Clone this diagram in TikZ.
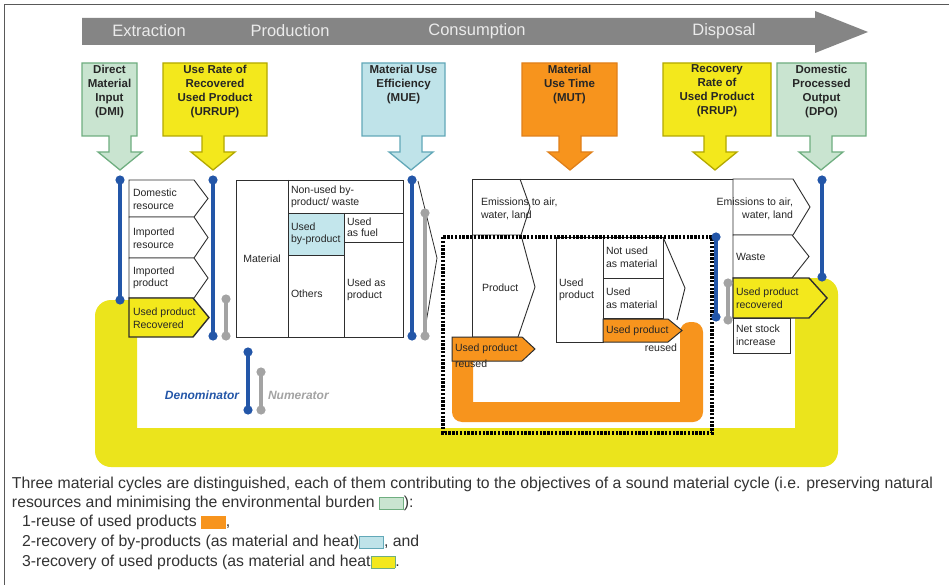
\documentclass[tikz,border=0pt]{standalone}
\usepackage{fontspec}
\setmainfont{Liberation Sans}

\definecolor{arrowgray}{HTML}{858585}
\definecolor{phasetext}{HTML}{EBEBEB}
\definecolor{envgreen}{HTML}{C9E4D0}
\definecolor{envgreenline}{HTML}{6FAE80}
\definecolor{loopyellow}{HTML}{EBE41C}
\definecolor{boxyellow}{HTML}{F3E81C}
\definecolor{yellowline}{HTML}{B3A800}
\definecolor{byblue}{HTML}{BFE3E9}
\definecolor{bybluefill}{HTML}{C3E6EC}
\definecolor{byblueline}{HTML}{62A8B8}
\definecolor{reuseorange}{HTML}{F7941D}
\definecolor{orangeline}{HTML}{E0801A}
\definecolor{denblue}{HTML}{2356A8}
\definecolor{numgray}{HTML}{A3A3A3}
\definecolor{inkline}{HTML}{2E2E2E}
\definecolor{inktext}{HTML}{262626}
\definecolor{legendtext}{HTML}{333333}

% pentagon (arrow-shaped) box: style, left x, top y, start of point, tip x, bottom y
\newcommand\chevbox[6]{%
  \draw[#1] (#2,#3) -- (#4,#3) -- (#5,{(#3+#6)/2}) -- (#4,#6) -- (#2,#6) -- cycle;}

% indicator call-out: fill, edge, left x, right x, arrow x, node name, text
\newcommand\indicator[7]{%
  \draw[fill=#1, draw=#2, line width=1.3]
    (#3,63) -- (#4,63) -- (#4,136) -- ({#5+11},136) -- ({#5+11},152)
    -- ({#5+22},152) -- (#5,170) -- ({#5-22},152) -- ({#5-11},152)
    -- ({#5-11},136) -- (#3,136) -- cycle;
  \node[indtxt] (#6) at ({(#3+#4)/2},65) {#7};}

% measuring bar with round ends: colour, name, x, top y, bottom y
\newcommand\measurebar[5]{%
  \coordinate (#2t) at (#3,#4);
  \coordinate (#2b) at (#3,#5);
  \draw[#1, line width=3.6] (#2t) -- (#2b);
  \fill[#1] (#2t) circle[radius=4.6pt] (#2b) circle[radius=4.6pt];}

% colour sample inside the legend text
\newcommand\swatch[2]{{\fboxsep=0pt\fboxrule=0.9pt\raisebox{-1.5pt}{\fcolorbox{#2}{#1}{\rule{0pt}{11pt}\hspace{23pt}}}}}

\begin{document}
\begin{tikzpicture}[x=1pt, y=-1pt, line join=miter,
  every node/.style={inner sep=0pt, outer sep=0pt},
  phase/.style={font=\fontsize{16.5}{18}\selectfont, text=phasetext},
  indtxt/.style={font=\fontsize{11.5}{14}\selectfont\bfseries, align=center, anchor=north, text=inktext},
  boxtxt/.style={font=\fontsize{10.5}{12.5}\selectfont, align=left, anchor=west, text=inktext},
  plainbox/.style={draw=inkline, line width=0.9, fill=white},
  yellowbox/.style={draw=inkline, line width=1.4, fill=boxyellow},
  orangebox/.style={draw=inkline, line width=1.0, fill=reuseorange},
  legend/.style={font=\fontsize{15.8}{18}\selectfont, anchor=west, text=legendtext}]

\useasboundingbox (0,0) rectangle (949,585);
\fill[white] (0,0) rectangle (949,585);

% page frame
\draw[line width=1.3, draw=black!65] (4.5,585) -- (4.5,4.5) -- (949,4.5);

% life-cycle stages arrow
\fill[arrowgray] (82,18) -- (815,18) -- (815,11) -- (868,32) -- (815,53)
  -- (815,45) -- (82,45) -- cycle;
\node[phase] (stExtraction)  at (149,31) {Extraction};
\node[phase] (stProduction)  at (290,31) {Production};
\node[phase] (stConsumption) at (477,31) {Consumption};
\node[phase] (stDisposal)    at (724,31) {Disposal};

% indicators
\indicator{envgreen}{envgreenline}{82}{137}{120}{dmi}{Direct\\Material\\Input\\(DMI)}
\indicator{boxyellow}{yellowline}{163}{267}{213}{urrup}{Use Rate of\\Recovered\\Used Product\\(URRUP)}
\indicator{byblue}{byblueline}{362}{445}{411}{mue}{Material Use\\Efficiency\\(MUE)}
\indicator{reuseorange}{orangeline}{522}{617}{570}{mut}{Material\\Use Time\\(MUT)}
\indicator{boxyellow}{yellowline}{663}{771}{715}{rrup}{Recovery\\Rate of\\Used Product\\(RRUP)}
\indicator{envgreen}{envgreenline}{777}{866}{821}{dpo}{Domestic\\Processed\\Output\\(DPO)}

% cycle 3: recovery of used products
\fill[loopyellow] (137,300) [rounded corners=16] -- (95,300) -- (95,467)
  -- (838,467) -- (838,278) -- (795,278) [sharp corners] -- (795,428)
  -- (137,428) -- cycle;

% cycle 1: reuse of used products
\fill[reuseorange] (473,338) -- (452,338) [rounded corners=10] -- (452,422)
  -- (703,422) -- (703,322) -- (680,322) [sharp corners] -- (680,402)
  -- (473,402) -- cycle;

% extraction: inputs
\chevbox{plainbox}{129}{180}{194}{208}{217}
\chevbox{plainbox}{129}{217}{194}{208}{258}
\chevbox{plainbox}{129}{258}{194}{208}{298}
\chevbox{yellowbox}{129}{298}{193}{209}{337}
\node[boxtxt] (inDom) at (133,199) {Domestic\\resource};
\node[boxtxt] (inImpR) at (133,238) {Imported\\resource};
\node[boxtxt] (inImpP) at (133,278) {Imported\\product};
\node[boxtxt] (inRec) at (133,318) {Used product\\Recovered};

% production
\draw[plainbox] (236,180) rectangle (403,337);
\fill[bybluefill] (288,213) rectangle (344,255);
\draw[inkline, line width=0.9] (288,180) -- (288,337)
  (288,213) -- (403,213) (344,213) -- (344,337)
  (288,255) -- (344,255) (344,242) -- (403,242);
\draw[inkline, line width=0.8] (418,181) -- (437,258) -- (424,335);
\node[boxtxt, anchor=center] (prMat) at (262,259) {Material};
\node[boxtxt] (prNon) at (291,197) {Non-used by-\\product/ waste};
\node[boxtxt] (prUsedBy) at (291,234) {Used\\by-product};
\node[boxtxt, font=\fontsize{10.5}{11}\selectfont] (prFuel) at (347,227) {Used\\as fuel};
\node[boxtxt] (prOth) at (291,294) {Others};
\node[boxtxt] (prProd) at (347,290) {Used as\\product};

% consumption
\draw[inkline, line width=0.9] (472,337) -- (472,179) -- (733,179);
\draw[inkline, line width=0.9] (520,179) -- (530,207) -- (521,235)
  -- (535,287) -- (518,337) -- (472,337) (472,235) -- (521,235);
\node[boxtxt] (csEm) at (481,209) {Emissions to air,\\water, land};
\node[boxtxt] (csProd) at (482,288) {Product};

\draw[plainbox] (556,237) rectangle (603,342);
\draw[plainbox] (603,237) rectangle (663,278);
\draw[plainbox] (603,278) rectangle (663,318);
\draw[inkline, line width=0.9] (663,237) -- (685,288) -- (677,320);
\chevbox{orangebox}{603}{319}{668}{682}{342}
\node[boxtxt] (csUsed) at (559,290) {Used\\product};
\node[boxtxt] (csNot) at (606,257) {Not used\\as material};
\node[boxtxt] (csMat) at (606,298) {Used\\as material};
\node[boxtxt] (csReu) at (606,331) {Used product};
\node[boxtxt, anchor=east] (csReuB) at (677,348) {reused};

\chevbox{orangebox}{452}{337}{522}{535}{361}
\node[boxtxt] (csReuL) at (455,349) {Used product};
\node[boxtxt] (csReuLB) at (455,364) {reused};

% disposal
\chevbox{plainbox}{733}{179}{793}{810}{235}
\chevbox{plainbox}{733}{235}{792}{809}{278}
\chevbox{yellowbox}{733}{278}{809}{827}{318}
\draw[plainbox] (733,318) rectangle (790,353);
\node[boxtxt, align=right, anchor=east] (dsEm) at (793,209) {Emissions to air,\\water, land};
\node[boxtxt] (dsWaste) at (736,257) {Waste};
\node[boxtxt] (dsRec) at (736,298) {Used product\\recovered};
\node[boxtxt] (dsStock) at (736,335) {Net stock\\increase};

% reuse boundary
\draw[black, line width=3.2, dash pattern=on 2.4pt off 1.4pt] (443,237) rectangle (712,433);

% denominators and numerators
\measurebar{denblue}{dmiBar}{120}{180}{300}
\measurebar{denblue}{urrupBar}{213}{180}{336}
\measurebar{numgray}{urrupNum}{226}{299}{336}
\measurebar{denblue}{mueBar}{412}{180}{336}
\measurebar{numgray}{mueNum}{425}{213}{336}
\measurebar{denblue}{rrupBar}{716}{237}{317}
\measurebar{numgray}{rrupNum}{728}{283}{320}
\measurebar{denblue}{dpoBar}{822}{180}{277}
\measurebar{denblue}{keyDen}{248}{352}{410}
\measurebar{numgray}{keyNum}{261}{372}{410}
\node[anchor=east, font=\fontsize{12}{14}\selectfont\bfseries\itshape, text=denblue] (keyDenTxt) at (239,395) {Denominator};
\node[anchor=west, font=\fontsize{12}{14}\selectfont\bfseries\itshape, text=numgray] (keyNumTxt) at (268,395) {Numerator};

% legend
\node[legend] (lg1) at (12,484) {Three material cycles are distinguished, each of them contributing to the objectives of a sound material cycle (i.e. preserving natural};
\node[legend] (lg2) at (12,503) {resources and minimising the environmental burden \swatch{envgreen}{envgreenline}):};
\node[legend] (lg3) at (22,522) {1-reuse of used products \swatch{reuseorange}{reuseorange},};
\node[legend] (lg4) at (22,542) {2-recovery of by-products (as material and heat)\swatch{byblue}{byblueline}, and};
\node[legend] (lg5) at (22,562) {3-recovery of used products (as material and heat\swatch{boxyellow}{envgreenline}.};
\end{tikzpicture}
\end{document}
